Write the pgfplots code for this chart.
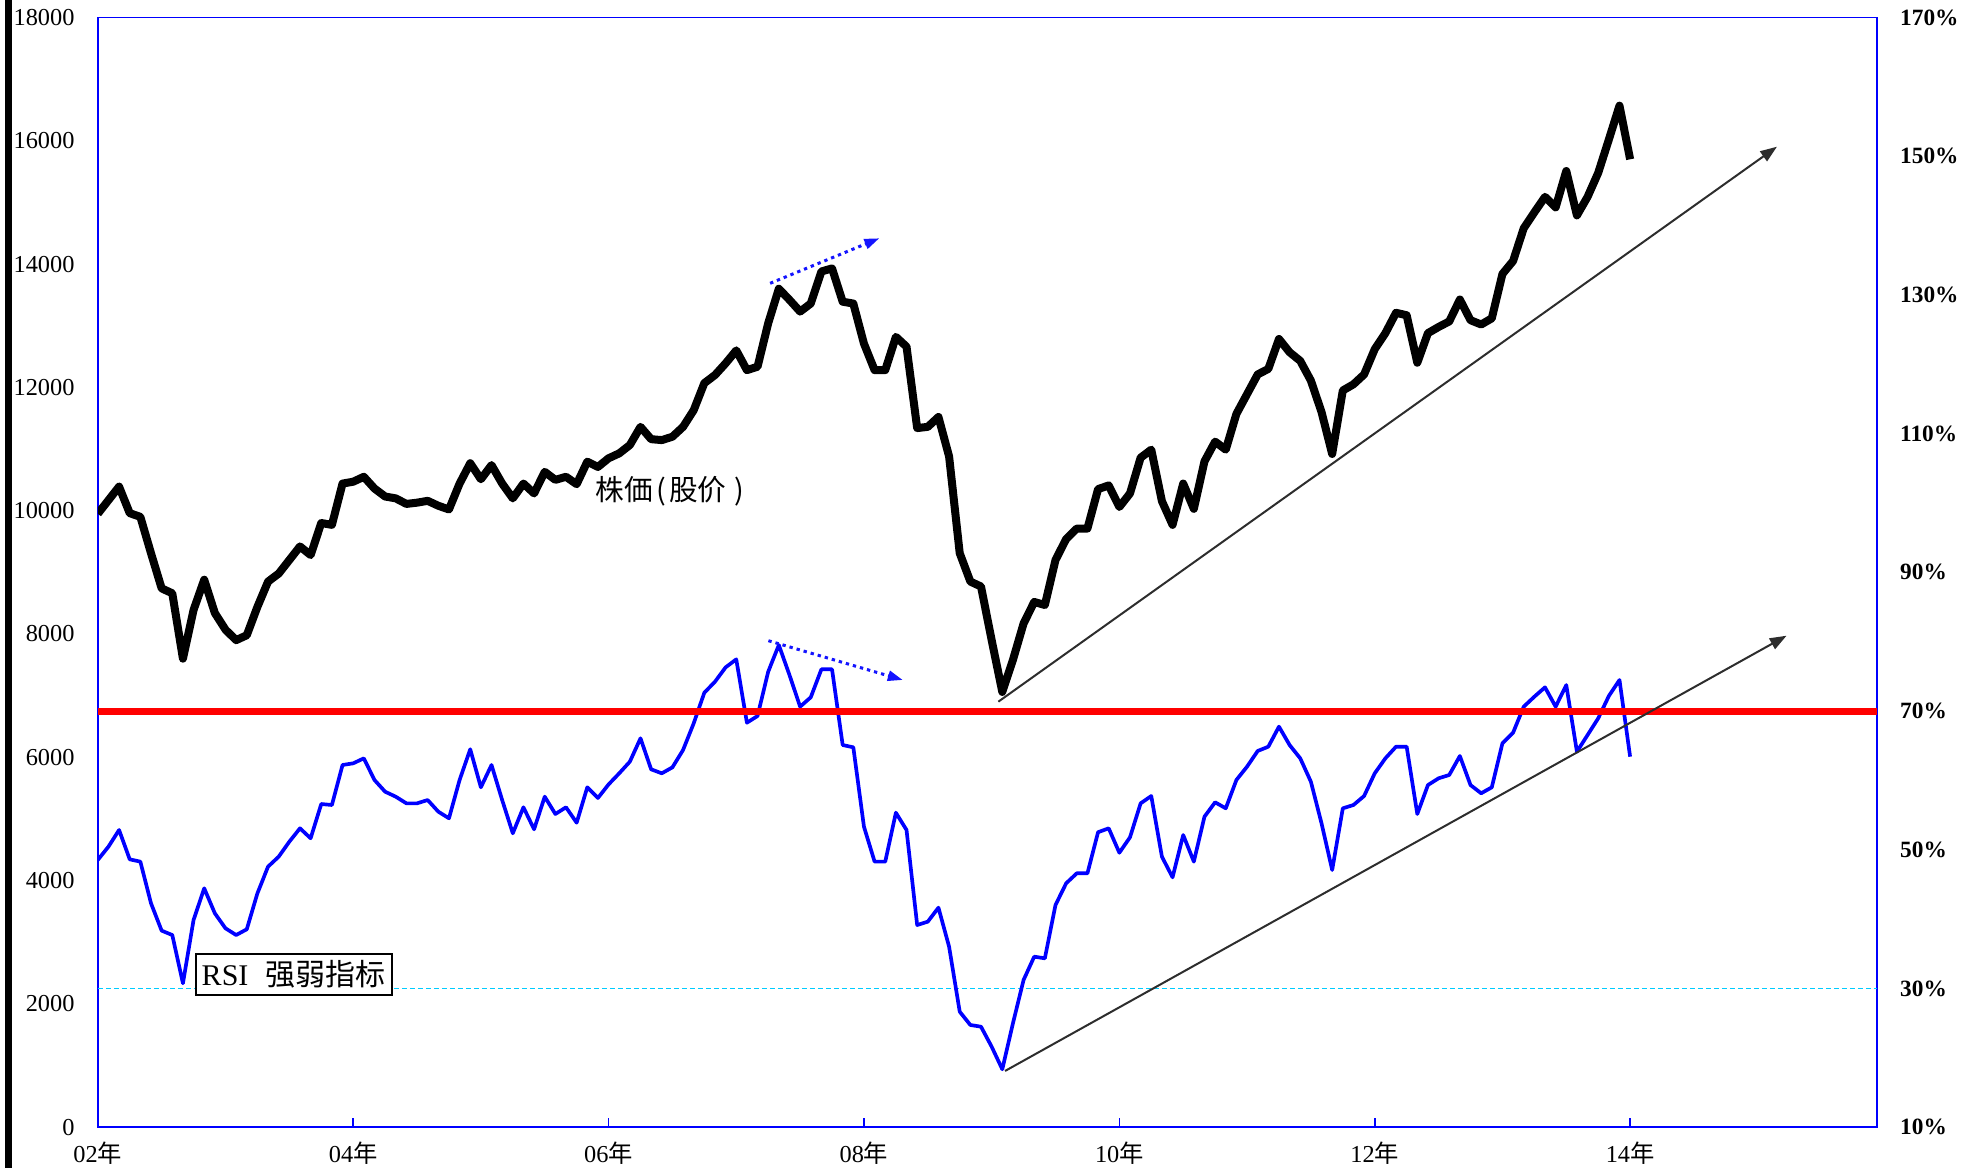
\documentclass[border=0pt]{standalone}
\usepackage{fontspec}
\setmainfont{Liberation Serif}
\newfontfamily\cjk{Noto Sans CJK SC}
\usepackage{pgfplots}
\usepackage{pgfplotstable}
\pgfplotsset{compat=1.18}
\usetikzlibrary{arrows.meta}
\pgfplotsset{/pgf/number format/1000 sep={}, /pgf/number format/assume math mode=true}
\definecolor{axblue}{RGB}{0,0,255}
\definecolor{rsiblue}{RGB}{0,0,255}
\definecolor{cyanl}{RGB}{0,204,255}
\definecolor{trend}{RGB}{45,45,45}
\definecolor{dotblue}{RGB}{20,20,255}

\pgfplotstableread{
m v
0 9950
1 10170
2 10390
3 9960
4 9900
5 9310
6 8740
7 8660
8 7600
9 8390
10 8880
11 8340
12 8070
13 7900
14 7980
15 8440
16 8850
17 8980
18 9200
19 9420
20 9280
21 9800
22 9770
23 10440
24 10470
25 10550
26 10360
27 10230
28 10200
29 10110
30 10130
31 10160
32 10080
33 10020
34 10440
35 10770
36 10510
37 10740
38 10440
39 10200
40 10440
41 10280
42 10630
43 10500
44 10550
45 10430
46 10795
47 10710
48 10850
49 10930
50 11065
51 11360
52 11160
53 11145
54 11200
55 11360
56 11630
57 12070
58 12200
59 12390
60 12600
61 12280
62 12335
63 13040
64 13600
65 13420
66 13230
67 13360
68 13880
69 13930
70 13390
71 13360
72 12710
73 12280
74 12280
75 12820
76 12660
77 11340
78 11360
79 11520
80 10880
81 9310
82 8850
83 8770
84 7900
85 7060
86 7580
87 8170
88 8520
89 8470
90 9200
91 9540
92 9710
93 9710
94 10350
95 10410
96 10060
97 10280
98 10860
99 10990
100 10155
101 9770
102 10440
103 10030
104 10800
105 11120
106 10990
107 11570
108 11890
109 12210
110 12300
111 12785
112 12570
113 12430
114 12110
115 11600
116 10920
117 11950
118 12050
119 12210
120 12620
121 12880
122 13210
123 13170
124 12400
125 12880
126 12980
127 13070
128 13425
129 13090
130 13020
131 13120
132 13840
133 14050
134 14580
135 14840
136 15090
137 14920
138 15510
139 14790
140 15090
141 15480
142 16020
143 16570
144 15700
}\pricetable

\pgfplotstableread{
m v
0 4334
1 4550
2 4821
3 4345
4 4307
5 3632
6 3188
7 3117
8 2334
9 3361
10 3875
11 3469
12 3226
13 3117
14 3210
15 3794
16 4226
17 4388
18 4631
19 4848
20 4686
21 5242
22 5226
23 5875
24 5902
25 5983
26 5632
27 5442
28 5361
29 5253
30 5253
31 5307
32 5118
33 5010
34 5632
35 6130
36 5513
37 5875
38 5307
39 4767
40 5189
41 4832
42 5361
43 5080
44 5189
45 4939
46 5513
47 5340
48 5560
49 5740
50 5929
51 6308
52 5805
53 5740
54 5837
55 6118
56 6551
57 7048
58 7226
59 7459
60 7589
61 6561
62 6670
63 7388
64 7821
65 7335
66 6821
67 6973
68 7427
69 7427
70 6199
71 6162
72 4874
73 4307
74 4307
75 5101
76 4821
77 3279
78 3334
79 3561
80 2928
81 1873
82 1658
83 1630
84 1306
85 939
86 1685
87 2388
88 2766
89 2739
90 3604
91 3956
92 4118
93 4118
94 4785
95 4848
96 4452
97 4702
98 5253
99 5372
100 4388
101 4053
102 4739
103 4307
104 5037
105 5270
106 5172
107 5632
108 5848
109 6102
110 6172
111 6497
112 6199
113 5983
114 5604
115 4929
116 4172
117 5172
118 5226
119 5372
120 5740
121 5983
122 6172
123 6172
124 5080
125 5550
126 5659
127 5713
128 6021
129 5550
130 5416
131 5513
132 6227
133 6399
134 6821
135 6983
136 7135
137 6821
138 7172
139 6091
140 6361
141 6632
142 6994
143 7254
144 6010
}\rsitable

\begin{document}
\begin{tikzpicture}
\useasboundingbox (-29.34pt,-12.24pt) rectangle (560.46pt,338.16pt);
\fill[black] (-27.84pt,-12.24pt) rectangle (-25.74pt,338.16pt);
\begin{axis}[
  at={(0,0)}, anchor=south west, scale only axis,
  width=533.76pt, height=332.91pt,
  xmin=0, xmax=167.2, ymin=0, ymax=18000,
  axis line style={axblue, line width=0.5pt},
  xtick={0,24,48,72,96,120,144},
  xticklabels={02{\cjk 年},04{\cjk 年},06{\cjk 年},08{\cjk 年},10{\cjk 年},12{\cjk 年},14{\cjk 年}},
  xtick pos=left, tick align=inside, major tick length=2.7pt,
  x tick style={axblue, line width=0.5pt},
  ytick={0,2000,4000,6000,8000,10000,12000,14000,16000,18000},
  ytick style={draw=none},
  scaled y ticks=false,
  yticklabel style={anchor=east, inner sep=0pt, xshift=-6.8pt, font=\fontsize{7.3}{8}\selectfont},
  xticklabel style={anchor=north, inner sep=0pt, yshift=-4.2pt, font=\fontsize{7.3}{8}\selectfont},
  clip=true,
]
\addplot[cyanl, line width=0.5pt, dash pattern=on 1.5pt off 0.9pt] coordinates {(0,2250) (167.2,2250)};
\addplot[rsiblue, line width=1.1pt, line join=round] table[x=m,y=v] {\rsitable};
\addplot[black, line width=2.4pt, line join=round] table[x=m,y=v] {\pricetable};
\addplot[red, line width=2.1pt] coordinates {(0,6750) (167.2,6750)};
\addplot[trend, line width=0.6pt, -{Triangle[length=5pt,width=3.6pt]}] coordinates {(84.63,6902) (157.8,15904)};
\addplot[trend, line width=0.6pt, -{Triangle[length=5pt,width=3.6pt]}] coordinates {(85.26,912) (158.7,7972)};
\addplot[dotblue, line width=0.9pt, dash pattern=on 1pt off 1.2pt, -{Triangle[length=4.5pt,width=3pt]}] coordinates {(63.18,13688) (73.45,14419)};
\addplot[dotblue, line width=0.9pt, dash pattern=on 1pt off 1.2pt, -{Triangle[length=4.5pt,width=3pt]}] coordinates {(63.02,7891) (75.65,7254)};
\node[anchor=west, inner sep=0pt] at (axis cs:46.7,10308) {\cjk\fontsize{8.6}{10}\selectfont 株価\hspace{1pt}(\hspace{1pt}股价\hspace{2.5pt})};
\node[draw=black, line width=0.5pt, fill=white, inner xsep=1.7pt, inner ysep=0pt, minimum height=12.3pt] at (axis cs:18.43,2477)
  {\makebox[55.3pt][l]{\fontsize{9}{10}\selectfont RSI\hspace{5pt}{\cjk 强弱指标}}};
\end{axis}
\begin{axis}[
  at={(0,0)}, anchor=south west, scale only axis,
  width=533.76pt, height=332.91pt,
  xmin=0, xmax=167.2, ymin=10, ymax=170,
  hide x axis, axis y line*=right,
  y axis line style={draw=none},
  ytick={10,30,50,70,90,110,130,150,170},
  yticklabels={10\%,30\%,50\%,70\%,90\%,110\%,130\%,150\%,170\%},
  ytick style={draw=none},
  yticklabel style={anchor=west, inner sep=0pt, xshift=6.75pt, font=\bfseries\fontsize{7}{8}\selectfont},
]
\addplot[draw=none] coordinates {(0,10) (167.2,170)};
\end{axis}
\end{tikzpicture}
\end{document}
